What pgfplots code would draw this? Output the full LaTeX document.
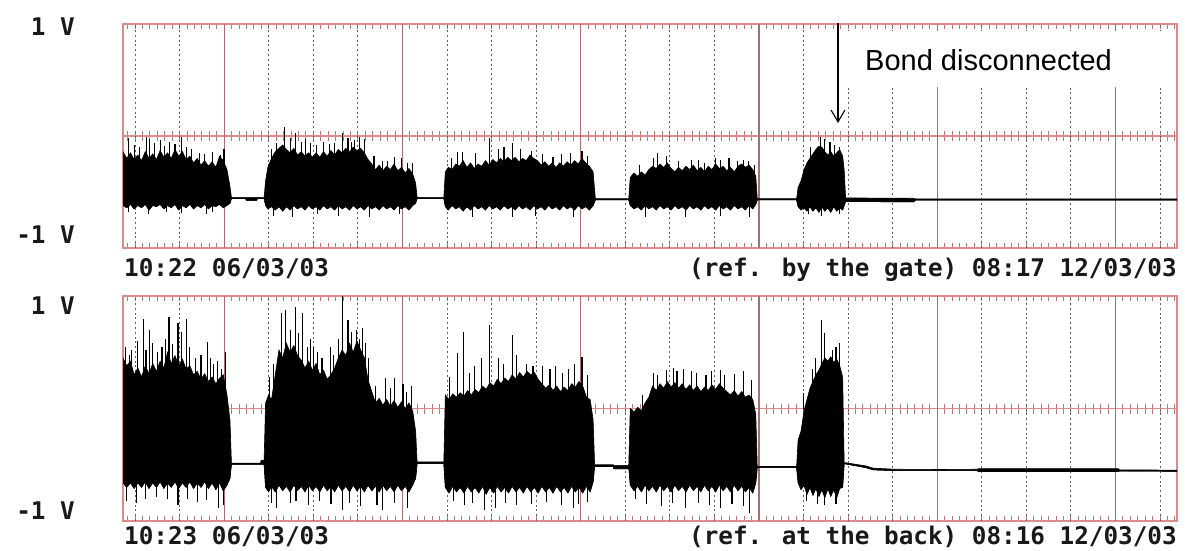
\documentclass[border=0pt]{standalone}
\usepackage{pgfplots}
\pgfplotsset{compat=1.18}
\usepackage{pgfplotstable}
\usetikzlibrary{arrows.meta}
\usepackage{fontspec}
\setmainfont{Liberation Sans}
\newfontfamily\lbl{DejaVu Sans Mono}
\definecolor{framecol}{RGB}{220,140,140}
\definecolor{daycol}{RGB}{170,110,110}
\definecolor{dotcol}{RGB}{95,95,95}
\definecolor{tickcol}{RGB}{185,120,120}
\definecolor{txtcol}{RGB}{25,25,25}

\pgfplotstableread{
x hi lo
0.0 -0.14 -0.62
0.5 -0.20 -0.64
1.0 -0.15 -0.61
1.5 -0.21 -0.65
2.0 -0.17 -0.62
2.5 -0.22 -0.64
3.0 -0.14 -0.61
3.5 -0.20 -0.66
4.0 -0.16 -0.62
4.5 -0.21 -0.63
5.0 -0.13 -0.61
5.5 -0.19 -0.65
6.0 -0.15 -0.62
6.5 -0.20 -0.64
7.0 -0.12 -0.61
7.5 -0.18 -0.66
8.0 -0.14 -0.62
8.5 -0.21 -0.64
9.0 -0.18 -0.61
9.5 -0.24 -0.65
10.0 -0.20 -0.62
10.5 -0.26 -0.64
11.0 -0.22 -0.61
11.5 -0.27 -0.65
12.0 -0.23 -0.62
12.5 -0.28 -0.63
13.0 -0.18 -0.61
13.5 -0.22 -0.64
14.0 -0.30 -0.62
14.4 -0.45 -0.60
14.6 -0.548 -0.558
16.5 -0.548 -0.558
16.6 -0.548 -0.575
18.0 -0.548 -0.575
18.1 -0.548 -0.558
19.0 -0.548 -0.558
19.2 -0.40 -0.62
19.5 -0.28 -0.65
20.0 -0.20 -0.63
20.5 -0.14 -0.66
21.0 -0.11 -0.63
21.5 -0.08 -0.67
22.0 -0.12 -0.63
22.5 -0.15 -0.66
23.0 -0.11 -0.62
23.5 -0.17 -0.65
24.0 -0.14 -0.63
24.5 -0.18 -0.66
25.0 -0.15 -0.62
25.5 -0.19 -0.65
26.0 -0.15 -0.63
26.5 -0.19 -0.66
27.0 -0.14 -0.62
27.5 -0.18 -0.65
28.0 -0.13 -0.63
28.5 -0.17 -0.66
29.0 -0.12 -0.62
29.5 -0.15 -0.65
30.0 -0.11 -0.63
30.5 -0.14 -0.66
31.0 -0.10 -0.62
31.5 -0.13 -0.65
32.0 -0.11 -0.63
32.5 -0.15 -0.66
33.0 -0.21 -0.62
33.5 -0.25 -0.65
34.0 -0.30 -0.63
34.5 -0.26 -0.66
35.0 -0.31 -0.62
35.5 -0.27 -0.65
36.0 -0.30 -0.63
36.5 -0.25 -0.66
37.0 -0.31 -0.62
37.5 -0.28 -0.65
38.0 -0.33 -0.63
38.5 -0.29 -0.66
39.0 -0.34 -0.62
39.4 -0.42 -0.60
39.6 -0.548 -0.558
43.2 -0.548 -0.558
43.4 -0.32 -0.63
43.8 -0.28 -0.66
44.3 -0.30 -0.62
44.8 -0.25 -0.65
45.3 -0.27 -0.63
45.8 -0.22 -0.67
46.3 -0.28 -0.63
46.8 -0.24 -0.66
47.3 -0.29 -0.62
47.8 -0.25 -0.65
48.3 -0.27 -0.63
48.8 -0.22 -0.66
49.3 -0.26 -0.62
49.8 -0.21 -0.65
50.3 -0.24 -0.63
50.8 -0.20 -0.66
51.3 -0.23 -0.62
51.8 -0.19 -0.65
52.3 -0.22 -0.63
52.8 -0.19 -0.66
53.3 -0.23 -0.62
53.8 -0.20 -0.65
54.3 -0.22 -0.63
54.8 -0.17 -0.66
55.3 -0.20 -0.62
55.8 -0.22 -0.65
56.3 -0.26 -0.63
56.8 -0.23 -0.66
57.3 -0.27 -0.62
57.8 -0.24 -0.65
58.3 -0.28 -0.63
58.8 -0.24 -0.66
59.3 -0.27 -0.62
59.8 -0.23 -0.65
60.3 -0.26 -0.63
60.8 -0.22 -0.66
61.3 -0.25 -0.62
61.8 -0.20 -0.65
62.3 -0.24 -0.63
62.8 -0.27 -0.66
63.3 -0.32 -0.62
63.6 -0.560 -0.570
68.1 -0.560 -0.570
68.3 -0.37 -0.62
68.8 -0.33 -0.65
69.3 -0.36 -0.63
69.8 -0.32 -0.66
70.3 -0.35 -0.62
70.8 -0.30 -0.65
71.3 -0.27 -0.63
71.8 -0.29 -0.66
72.3 -0.25 -0.62
72.8 -0.28 -0.65
73.3 -0.24 -0.63
73.8 -0.29 -0.66
74.3 -0.32 -0.62
74.8 -0.28 -0.65
75.3 -0.31 -0.63
75.8 -0.27 -0.66
76.3 -0.30 -0.62
76.8 -0.26 -0.65
77.3 -0.31 -0.63
77.8 -0.28 -0.66
78.3 -0.32 -0.62
78.8 -0.27 -0.65
79.3 -0.30 -0.63
79.8 -0.25 -0.66
80.3 -0.29 -0.62
80.8 -0.27 -0.65
81.3 -0.31 -0.63
81.8 -0.28 -0.66
82.3 -0.32 -0.62
82.8 -0.27 -0.65
83.3 -0.25 -0.63
83.8 -0.28 -0.66
84.3 -0.26 -0.62
84.8 -0.30 -0.65
85.2 -0.36 -0.61
85.4 -0.560 -0.570
90.7 -0.560 -0.570
90.9 -0.46 -0.63
91.3 -0.40 -0.66
91.7 -0.30 -0.64
92.1 -0.24 -0.67
92.5 -0.20 -0.63
92.9 -0.16 -0.67
93.3 -0.12 -0.64
93.7 -0.09 -0.68
94.1 -0.10 -0.63
94.5 -0.14 -0.67
94.9 -0.17 -0.64
95.3 -0.14 -0.68
95.7 -0.18 -0.63
96.1 -0.15 -0.67
96.5 -0.12 -0.64
96.9 -0.18 -0.66
97.1 -0.30 -0.62
97.3 -0.553 -0.585
106.5 -0.556 -0.588
106.7 -0.562 -0.572
141.92 -0.562 -0.572
}\topdata

\pgfplotstableread{
x b t
0.7 -0.3 -0.02
1.5 -0.3 -0.08
2.2 -0.3 -0.10
3.2 -0.3 -0.01
3.6 -0.3 -0.03
4.2 -0.3 -0.06
5.0 -0.3 -0.04
5.6 -0.3 -0.09
6.3 -0.3 -0.05
7.0 -0.3 -0.07
7.9 -0.3 -0.01
8.5 -0.3 -0.10
9.2 -0.3 -0.12
10.3 -0.3 -0.15
11.0 -0.3 -0.16
12.0 -0.3 -0.14
13.1 -0.3 -0.17
13.6 -0.3 -0.12
20.0 -0.3 -0.12
20.7 -0.3 -0.06
21.8 -0.3 0.08
22.5 -0.3 -0.02
23.2 -0.3 0.03
24.0 -0.3 -0.05
24.6 -0.3 -0.03
25.3 -0.3 -0.06
26.0 -0.3 -0.08
27.0 -0.3 -0.05
27.8 -0.3 -0.07
28.5 -0.3 -0.06
29.5 -0.3 0.03
30.3 -0.3 -0.02
30.8 -0.3 -0.05
31.2 -0.3 -0.04
31.9 -0.3 -0.01
32.5 -0.3 -0.03
33.8 -0.4 -0.18
34.9 -0.4 -0.22
35.6 -0.4 -0.22
36.6 -0.4 -0.19
37.5 -0.4 -0.20
38.3 -0.4 -0.24
39.0 -0.4 -0.24
44.2 -0.4 -0.20
45.0 -0.4 -0.14
45.7 -0.4 -0.14
47.5 -0.4 -0.15
49.3 -0.4 -0.02
50.5 -0.4 -0.12
51.3 -0.4 -0.10
52.4 -0.4 -0.06
53.5 -0.4 -0.12
55.0 -0.4 -0.13
56.5 -0.4 -0.16
57.9 -0.4 -0.19
59.0 -0.4 -0.16
60.3 -0.4 -0.15
61.8 -0.4 -0.13
62.5 -0.4 -0.18
69.5 -0.4 -0.26
71.4 -0.4 -0.20
72.0 -0.4 -0.15
73.2 -0.4 -0.18
74.8 -0.4 -0.22
76.6 -0.4 -0.21
77.5 -0.4 -0.21
78.3 -0.4 -0.24
79.8 -0.4 -0.20
80.5 -0.4 -0.21
81.6 -0.4 -0.20
82.7 -0.4 -0.22
83.5 -0.4 -0.21
84.2 -0.4 -0.22
85.0 -0.4 -0.26
92.6 -0.4 -0.10
93.9 -0.4 -0.01
94.4 -0.4 -0.03
95.2 -0.4 -0.05
95.8 -0.4 -0.08
96.5 -0.4 -0.10
0.7 -0.68 -0.6
3.4 -0.70 -0.6
5.9 -0.68 -0.6
7.9 -0.69 -0.6
11.3 -0.70 -0.6
12.1 -0.68 -0.6
20.3 -0.71 -0.6
22.8 -0.72 -0.6
26.2 -0.70 -0.6
29.0 -0.71 -0.6
33.2 -0.72 -0.6
37.2 -0.70 -0.6
47.0 -0.72 -0.6
52.5 -0.72 -0.6
55.5 -0.71 -0.6
60.6 -0.72 -0.6
70.3 -0.72 -0.6
75.7 -0.72 -0.6
80.4 -0.71 -0.6
84.4 -0.72 -0.6
92.3 -0.70 -0.6
94.0 -0.71 -0.6
96.5 -0.70 -0.6
}\topspk

\pgfplotstableread{
x hi lo
0.0 0.45 -0.66
0.5 0.38 -0.70
1.0 0.42 -0.66
1.5 0.30 -0.71
2.0 0.36 -0.66
2.5 0.28 -0.70
3.0 0.38 -0.65
3.5 0.31 -0.71
4.0 0.40 -0.66
4.5 0.33 -0.70
5.0 0.42 -0.65
5.5 0.36 -0.71
6.0 0.50 -0.66
6.5 0.40 -0.70
7.0 0.47 -0.65
7.5 0.38 -0.71
8.0 0.44 -0.66
8.5 0.35 -0.70
9.0 0.38 -0.65
9.5 0.30 -0.71
10.0 0.33 -0.66
10.5 0.26 -0.70
11.0 0.31 -0.65
11.5 0.24 -0.71
12.0 0.28 -0.66
12.5 0.22 -0.72
13.0 0.27 -0.66
13.5 0.30 -0.73
14.0 0.12 -0.68
14.4 -0.10 -0.62
14.6 -0.485 -0.495
18.5 -0.485 -0.495
18.6 -0.46 -0.495
19.0 -0.46 -0.495
19.2 0.05 -0.70
19.6 0.12 -0.74
20.0 0.08 -0.69
20.5 0.30 -0.74
21.0 0.52 -0.68
21.5 0.45 -0.73
22.0 0.58 -0.69
22.5 0.50 -0.74
23.0 0.56 -0.68
23.5 0.47 -0.73
24.0 0.43 -0.69
24.5 0.36 -0.74
25.0 0.42 -0.68
25.5 0.34 -0.73
26.0 0.40 -0.69
26.5 0.30 -0.74
27.0 0.34 -0.68
27.5 0.26 -0.73
28.0 0.30 -0.69
28.5 0.36 -0.74
29.0 0.45 -0.68
29.5 0.52 -0.73
30.0 0.47 -0.69
30.5 0.58 -0.74
31.0 0.50 -0.68
31.5 0.60 -0.73
32.0 0.52 -0.69
32.5 0.45 -0.74
33.0 0.25 -0.68
33.5 0.15 -0.73
34.0 0.05 -0.69
34.5 0.09 -0.74
35.0 0.03 -0.68
35.5 0.08 -0.73
36.0 0.02 -0.69
36.5 0.07 -0.74
37.0 0.01 -0.68
37.5 0.06 -0.73
38.0 0.00 -0.69
38.5 0.05 -0.74
39.0 -0.02 -0.68
39.4 -0.20 -0.62
39.6 -0.475 -0.49
43.2 -0.475 -0.49
43.4 0.12 -0.70
43.9 0.08 -0.75
44.4 0.13 -0.69
44.9 0.10 -0.74
45.4 0.14 -0.70
45.9 0.11 -0.75
46.4 0.16 -0.69
46.9 0.12 -0.74
47.4 0.17 -0.70
47.9 0.14 -0.75
48.4 0.20 -0.69
48.9 0.17 -0.76
49.4 0.23 -0.70
49.9 0.20 -0.75
50.4 0.26 -0.69
50.9 0.22 -0.74
51.4 0.27 -0.70
51.9 0.24 -0.75
52.4 0.30 -0.69
52.9 0.26 -0.74
53.4 0.32 -0.70
53.9 0.28 -0.75
54.4 0.33 -0.69
54.9 0.30 -0.74
55.4 0.32 -0.70
55.9 0.26 -0.75
56.4 0.22 -0.69
56.9 0.18 -0.74
57.4 0.21 -0.70
57.9 0.16 -0.75
58.4 0.20 -0.69
58.9 0.15 -0.74
59.4 0.19 -0.70
59.9 0.16 -0.75
60.4 0.22 -0.69
60.9 0.19 -0.74
61.4 0.24 -0.70
61.9 0.20 -0.75
62.4 0.10 -0.69
62.9 0.08 -0.74
63.3 -0.10 -0.65
63.5 -0.50 -0.515
66.0 -0.50 -0.515
66.1 -0.505 -0.535
68.0 -0.505 -0.535
68.1 -0.50 -0.52
68.3 0.00 -0.68
68.8 -0.03 -0.73
69.3 0.01 -0.69
69.8 -0.02 -0.74
70.3 0.05 -0.68
70.8 0.10 -0.73
71.3 0.20 -0.69
71.8 0.16 -0.74
72.3 0.22 -0.68
72.8 0.18 -0.73
73.3 0.24 -0.69
73.8 0.19 -0.74
74.3 0.23 -0.68
74.8 0.18 -0.73
75.3 0.22 -0.69
75.8 0.17 -0.74
76.3 0.21 -0.68
76.8 0.16 -0.73
77.3 0.20 -0.69
77.8 0.15 -0.74
78.3 0.19 -0.68
78.8 0.16 -0.73
79.3 0.21 -0.69
79.8 0.17 -0.74
80.3 0.22 -0.68
80.8 0.18 -0.73
81.3 0.15 -0.69
81.8 0.12 -0.74
82.3 0.16 -0.68
82.8 0.11 -0.73
83.3 0.15 -0.69
83.8 0.10 -0.74
84.3 0.12 -0.70
84.8 0.08 -0.75
85.2 -0.05 -0.66
85.4 -0.515 -0.525
90.7 -0.515 -0.525
90.9 -0.28 -0.66
91.3 -0.20 -0.72
91.7 -0.02 -0.68
92.1 0.08 -0.76
92.5 0.18 -0.70
92.9 0.24 -0.77
93.3 0.30 -0.71
93.7 0.34 -0.78
94.1 0.40 -0.72
94.5 0.45 -0.79
94.9 0.42 -0.71
95.3 0.46 -0.78
95.7 0.41 -0.72
96.1 0.44 -0.79
96.5 0.38 -0.71
96.9 0.28 -0.70
97.1 -0.48 -0.49
100.0 -0.51 -0.525
101.0 -0.53 -0.545
104.0 -0.54 -0.552
110.0 -0.542 -0.552
115.0 -0.54 -0.552
115.2 -0.535 -0.56
134.0 -0.535 -0.56
134.2 -0.545 -0.555
141.92 -0.548 -0.558
}\botdata

\pgfplotstableread{
x b t
0.3 0.0 0.55
0.9 0.0 0.48
1.2 0.0 0.52
2.0 0.0 0.60
2.7 0.0 0.80
3.1 0.0 0.52
3.6 0.0 0.70
4.0 0.0 0.58
4.7 0.0 0.50
5.25 0.0 0.55
5.7 0.0 0.62
6.2 0.0 0.81
6.7 0.0 0.57
7.4 0.0 0.76
7.9 0.0 0.68
8.5 0.0 0.80
8.9 0.0 0.55
9.8 0.0 0.45
10.5 0.0 0.48
11.4 0.0 0.59
11.8 0.0 0.45
12.2 0.0 0.40
12.7 0.0 0.42
13.3 0.0 0.35
13.8 0.0 0.50
19.7 0.0 0.28
20.3 0.0 0.40
21.4 0.0 0.85
21.9 0.0 0.875
22.5 0.0 0.70
23.2 0.0 0.90
23.6 0.0 0.67
24.2 0.0 0.85
24.8 0.0 0.55
25.2 0.0 0.62
25.6 0.0 0.55
26.2 0.0 0.50
26.8 0.0 0.45
27.9 0.0 0.55
28.3 0.0 0.48
29.0 0.0 0.62
29.6 0.0 1.00
30.3 0.0 0.79
30.8 0.0 0.68
31.5 0.0 0.70
31.8 0.0 0.62
32.2 0.0 0.72
32.6 0.0 0.58
33.0 0.0 0.45
34.0 0.0 0.20
35.3 0.0 0.27
36.0 0.0 0.18
36.6 0.0 0.27
37.7 0.0 0.22
38.2 0.0 0.15
38.9 0.0 0.20
44.0 0.0 0.28
45.0 0.0 0.49
45.8 0.0 0.68
46.6 0.0 0.32
47.3 0.0 0.38
48.3 0.0 0.45
49.3 0.0 0.74
50.6 0.0 0.45
51.2 0.0 0.40
52.4 0.0 0.65
53.0 0.0 0.48
54.3 0.0 0.40
55.2 0.0 0.38
56.5 0.0 0.38
57.5 0.0 0.35
58.2 0.0 0.38
59.2 0.0 0.32
60.0 0.0 0.35
60.8 0.0 0.40
61.8 0.0 0.46
62.5 0.0 0.30
70.0 0.0 0.12
71.4 0.0 0.32
72.0 0.0 0.30
73.2 0.0 0.34
74.1 0.0 0.36
74.6 0.0 0.33
75.5 0.0 0.35
76.6 0.0 0.33
77.2 0.0 0.32
78.5 0.0 0.30
79.2 0.0 0.33
80.4 0.0 0.34
81.0 0.0 0.30
82.3 0.0 0.31
83.5 0.0 0.33
84.6 0.0 0.25
91.6 0.0 0.14
92.8 0.0 0.35
93.3 0.0 0.45
94.0 0.0 0.79
94.5 0.0 0.67
95.5 0.0 0.52
96.0 0.0 0.55
96.5 0.0 0.58
0.5 -0.82 -0.6
1.8 -0.84 -0.6
3.0 -0.80 -0.6
4.5 -0.79 -0.6
6.0 -0.80 -0.6
7.4 -0.86 -0.6
8.7 -0.80 -0.6
10.0 -0.83 -0.6
11.3 -0.81 -0.6
12.9 -0.88 -0.6
13.5 -0.86 -0.6
20.0 -0.84 -0.6
20.7 -0.88 -0.6
22.6 -0.84 -0.6
23.3 -0.82 -0.6
25.0 -0.86 -0.6
26.5 -0.82 -0.6
28.0 -0.85 -0.6
29.5 -0.90 -0.6
30.5 -0.84 -0.6
32.0 -0.87 -0.6
34.2 -0.86 -0.6
35.0 -0.90 -0.6
36.5 -0.84 -0.6
38.3 -0.88 -0.6
44.5 -0.82 -0.6
46.0 -0.86 -0.6
47.0 -0.84 -0.6
48.7 -0.90 -0.6
50.1 -0.88 -0.6
51.5 -0.84 -0.6
53.0 -0.86 -0.6
55.0 -0.85 -0.6
57.0 -0.83 -0.6
59.0 -0.86 -0.6
60.6 -0.88 -0.6
61.3 -0.85 -0.6
62.5 -0.83 -0.6
69.0 -0.80 -0.6
70.5 -0.85 -0.6
72.5 -0.87 -0.6
74.0 -0.84 -0.6
75.7 -0.88 -0.6
77.5 -0.84 -0.6
79.0 -0.86 -0.6
80.4 -0.88 -0.6
82.0 -0.85 -0.6
83.5 -0.87 -0.6
84.4 -0.93 -0.6
92.0 -0.82 -0.6
93.5 -0.85 -0.6
94.5 -0.86 -0.6
96.0 -0.85 -0.6
}\botspk

\pgfplotsset{
  halfax/.style={scale only axis, width=1054pt, height=112pt,
    xmin=0, xmax=141.92, ymin=0, ymax=1,
    xtick={0.63,1.63,...,141.63}, xticklabels={}, ytick=\empty,
    tick align=inside, major tick length=5pt,
    tick style={tickcol, line width=1pt},
    axis line style={framecol, line width=1.5pt}},
  dataax/.style={scale only axis, width=1054pt,
    xmin=0, xmax=141.92, ymin=-1, ymax=1, ytick=\empty,
    xtick={13.63,37.63,61.63,85.63,109.63,133.63}, xticklabels={},
    major tick length=0pt, xmajorgrids,
    major grid style={daycol, line width=1.1pt},
    extra x ticks={1.63,7.63,19.63,25.63,31.63,43.63,49.63,55.63,67.63,73.63,79.63,91.63,97.63,103.63,115.63,121.63,127.63,139.63},
    extra x tick labels={},
    extra x tick style={major tick length=0pt, major grid style={dotcol, line width=1pt, dash pattern=on 2pt off 2.8pt}},
    axis line style={draw=none}},
  spk/.style={draw=none, mark=none, forget plot,
    error bars/.cd, y dir=plus, y explicit, error mark=none,
    error bar style={draw=black, solid, line width=1.1pt}},
}

\begin{document}
\begin{tikzpicture}
\useasboundingbox (0pt,0pt) rectangle (1185pt,-550pt);

% ---------- top panel ----------
\begin{axis}[halfax, at={(123pt,-24pt)}, anchor=north west]
\addplot[draw=none, forget plot] coordinates {(0,0) (141.92,1)};
\end{axis}
\begin{axis}[halfax, at={(123pt,-136pt)}, anchor=north west]
\addplot[draw=none, forget plot] coordinates {(0,0) (141.92,1)};
\end{axis}
\begin{axis}[dataax, height=224pt, at={(123pt,-24pt)}, anchor=north west]
\addplot[black, line width=0.6pt, stack plots=y] table[x=x,y=lo]{\topdata};
\addplot[black, fill=black, line width=0.6pt, stack plots=y] table[x=x,y expr=\thisrow{hi}-\thisrow{lo}]{\topdata} \closedcycle;
\addplot[spk] table[x=x, y=b, y error plus expr=\thisrow{t}-\thisrow{b}]{\topspk};
\end{axis}

% ---------- bottom panel ----------
\begin{axis}[halfax, at={(123pt,-296pt)}, anchor=north west, height=112.5pt]
\addplot[draw=none, forget plot] coordinates {(0,0) (141.92,1)};
\end{axis}
\begin{axis}[halfax, at={(123pt,-408.5pt)}, anchor=north west, height=112.5pt]
\addplot[draw=none, forget plot] coordinates {(0,0) (141.92,1)};
\end{axis}
\begin{axis}[dataax, height=225pt, at={(123pt,-296pt)}, anchor=north west]
\addplot[black, line width=0.6pt, stack plots=y] table[x=x,y=lo]{\botdata};
\addplot[black, fill=black, line width=0.6pt, stack plots=y] table[x=x,y expr=\thisrow{hi}-\thisrow{lo}]{\botdata} \closedcycle;
\addplot[spk] table[x=x, y=b, y error plus expr=\thisrow{t}-\thisrow{b}]{\botspk};
\end{axis}

% ---------- labels ----------
\begin{scope}[every node/.style={inner sep=0pt, text=txtcol, font=\lbl\bfseries\fontsize{24.3}{28}\selectfont}]
\node[anchor=base east] at (75pt,-35pt) {1 V};
\node[anchor=base east] at (75pt,-243pt) {-1 V};
\node[anchor=base east] at (75pt,-314pt) {1 V};
\node[anchor=base east] at (75pt,-519pt) {-1 V};
\node[anchor=base west] at (124pt,-276pt) {10:22 06/03/03};
\node[anchor=base east] at (1177pt,-276pt) {(ref. by the gate) 08:17 12/03/03};
\node[anchor=base west] at (124pt,-544pt) {10:23 06/03/03};
\node[anchor=base east] at (1177pt,-544pt) {(ref. at the back) 08:16 12/03/03};
\end{scope}

% ---------- annotation ----------
\fill[white] (843pt,-31pt) rectangle (1170pt,-87pt);
\node[anchor=base west, inner sep=0pt, font=\fontsize{29}{34}\selectfont] at (865pt,-70pt) {Bond disconnected};
\draw[black, line width=1.3pt, -{Straight Barb[length=12pt,width=14pt,line width=1.1pt]}] (838pt,-23pt) -- (838pt,-123pt);
\end{tikzpicture}
\end{document}
